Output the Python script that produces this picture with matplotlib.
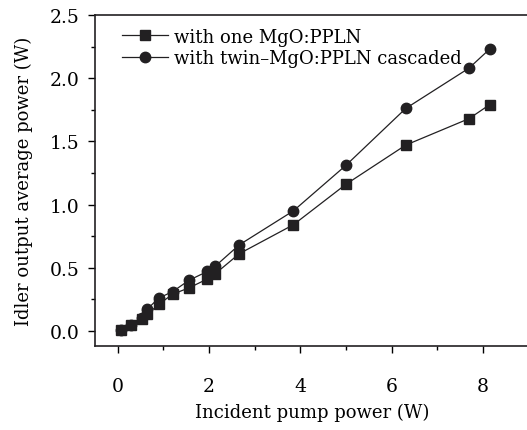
import matplotlib
matplotlib.use("Agg")
from matplotlib import pyplot as plt
from matplotlib.ticker import MultipleLocator

plt.rcParams['font.family'] = ['DejaVu Serif']
plt.rcParams['mathtext.fontset'] = 'dejavuserif'

# pump power (W)
pump = [0.06, 0.28, 0.52, 0.64, 0.90, 1.20, 1.56, 1.96, 2.13, 2.66, 3.85, 5.00, 6.31, 7.70, 8.15]
# idler output (W)
one_ppln = [0.01, 0.05, 0.09, 0.13, 0.21, 0.29, 0.34, 0.41, 0.45, 0.61, 0.84, 1.16, 1.47, 1.68, 1.79]
twin_ppln = [0.01, 0.05, 0.10, 0.17, 0.26, 0.31, 0.40, 0.47, 0.51, 0.68, 0.95, 1.31, 1.76, 2.08, 2.23]

fig = plt.figure(figsize=(5.27, 4.31), dpi=100)
ax = fig.add_axes([95 / 527, 1 - 347 / 431, (528.4 - 95) / 527, (347 - 16) / 431])

col = '#222022'
ax.plot(pump, one_ppln, '-s', color=col, lw=0.9, ms=6.5, label="with one MgO:PPLN")
ax.plot(pump, twin_ppln, '-o', color=col, lw=0.9, ms=7.5, label="with twin\u2013MgO:PPLN cascaded")

ax.set_xlim(-0.5, 9.0)
ax.set_ylim(-0.12, 2.5)
ax.xaxis.set_major_locator(MultipleLocator(2))
ax.xaxis.set_minor_locator(MultipleLocator(1))
ax.yaxis.set_major_locator(MultipleLocator(0.5))
ax.yaxis.set_minor_locator(MultipleLocator(0.25))
ax.yaxis.set_major_formatter(matplotlib.ticker.FormatStrFormatter('%.1f'))
ax.tick_params(which='major', direction='out', length=5, width=1, labelsize=13.5)
ax.tick_params(which='minor', direction='out', length=3, width=1)
ax.tick_params(axis='x', which='major', pad=17)
ax.tick_params(axis='y', which='major', pad=6)
ax.tick_params(top=False, right=False)
ax.spines['right'].set_visible(False)
for s in ['left', 'bottom', 'top']:
    ax.spines[s].set_linewidth(1.2)
    ax.spines[s].set_color(col)

ax.set_xlabel("Incident pump power (W)", fontsize=13, labelpad=6)
ax.set_ylabel("Idler output average power (W)", fontsize=13, labelpad=12)

ax.legend(loc="upper left", frameon=False, fontsize=13, handlelength=2.6,
          handletextpad=0.3, labelspacing=0.2, borderaxespad=0.3,
          bbox_to_anchor=(0.032, 1.0))

plt.savefig("out.png", dpi=100)
